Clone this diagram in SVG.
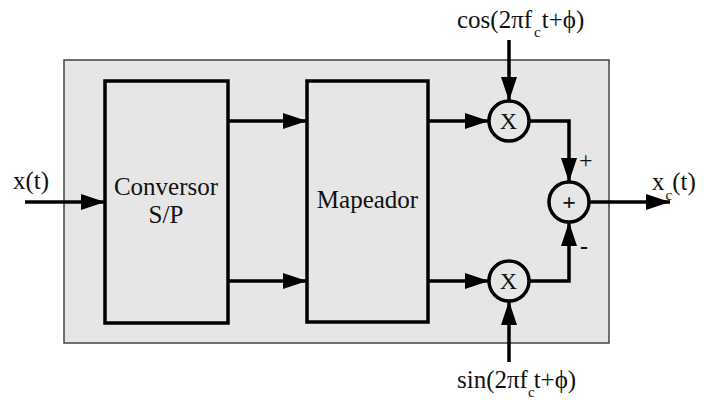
<svg xmlns="http://www.w3.org/2000/svg" width="704" height="400" viewBox="0 0 704 400">
<defs>
<style>
.box{fill:none;stroke:#000;stroke-width:3.5}
.ln{fill:none;stroke:#000;stroke-width:3.5}
text{font-family:'Liberation Serif','DejaVu Serif',serif;fill:#111}
.t{font-size:24px}
.l{font-size:25px}
.s{font-size:15px}
.p{font-size:24px}
.c{text-anchor:middle}
.circ{fill:none;stroke:#000;stroke-width:3.5}
</style>
<marker id="ah" markerUnits="userSpaceOnUse" markerWidth="26" markerHeight="18" refX="24" refY="8" orient="auto" viewBox="0 0 26 18">
<path d="M0,0 L24,8 L0,16 Z" fill="#000"/>
</marker>
</defs>
<rect x="64" y="60" width="545" height="283" fill="#e6e6e6" stroke="#444" stroke-width="1.5"/>
<g id="conversor">
<rect class="box" x="105" y="81" width="123" height="242"/>
<text class="l c" x="166" y="195">Conversor</text>
<text class="l c" x="166" y="223">S/P</text>
</g>
<g id="mapeador">
<rect class="box" x="307" y="81" width="121" height="241"/>
<text class="l c" x="367.5" y="208">Mapeador</text>
</g>
<g id="mult1">
<circle class="circ" cx="509" cy="121" r="20"/>
<text class="t c" x="508.5" y="129">X</text>
</g>
<g id="mult2">
<circle class="circ" cx="509" cy="281" r="20"/>
<text class="t c" x="508.5" y="289">X</text>
</g>
<g id="sum">
<circle class="circ" cx="569" cy="202" r="20"/>
<text class="t c" x="569" y="210" font-weight="bold">+</text>
</g>
<g id="labels">
<text class="l" x="13" y="189">x(t)</text>
<text class="l" x="652" y="190">x<tspan class="s" dx="1" dy="10">c</tspan><tspan dy="-10">(t)</tspan></text>
<text class="l" x="457" y="28">cos(2πf<tspan class="s" dx="2" dy="9">c</tspan><tspan dx="1" dy="-9">t+ϕ)</tspan></text>
<text class="l" x="457" y="388">sin(2πf<tspan class="s" dx="0" dy="9">c</tspan><tspan dx="-1" dy="-9">t+ϕ)</tspan></text>
<text class="p" x="579" y="168">+</text>
<text class="t" x="580" y="254" font-weight="bold">-</text>
</g>
<g id="connectors">
<line class="ln" x1="25" y1="202" x2="105" y2="202" marker-end="url(#ah)"/>
<line class="ln" x1="228" y1="121" x2="307" y2="121" marker-end="url(#ah)"/>
<line class="ln" x1="228" y1="281" x2="307" y2="281" marker-end="url(#ah)"/>
<line class="ln" x1="428" y1="121" x2="489" y2="121" marker-end="url(#ah)"/>
<line class="ln" x1="428" y1="281" x2="489" y2="281" marker-end="url(#ah)"/>
<line class="ln" x1="509" y1="40" x2="509" y2="101" marker-end="url(#ah)"/>
<line class="ln" x1="509" y1="362" x2="509" y2="301" marker-end="url(#ah)"/>
<path class="ln" d="M529,121 H569 V182" marker-end="url(#ah)"/>
<path class="ln" d="M529,281 H569 V222" marker-end="url(#ah)"/>
<line class="ln" x1="589" y1="202" x2="670" y2="202" marker-end="url(#ah)"/>
</g>
</svg>
